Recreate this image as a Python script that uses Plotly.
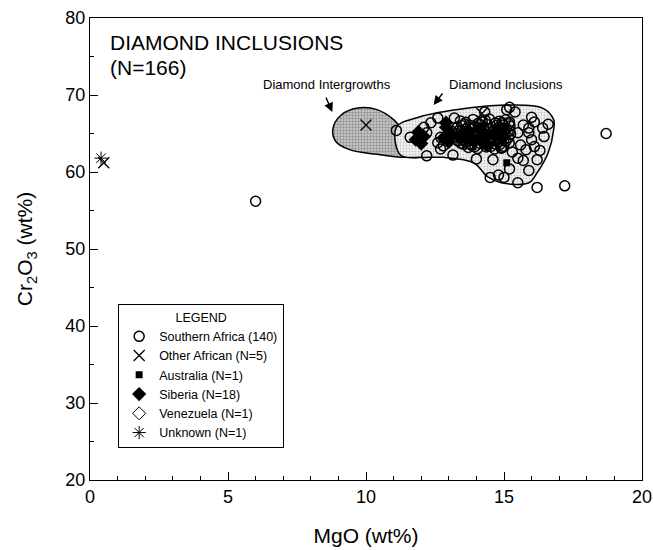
import plotly.graph_objects as go

# ---- Southern Africa chromite inclusions (MgO, Cr2O3 in wt%) ----
sa_mgo = [
    6.0, 18.7, 17.2, 16.2, 15.5, 15.0, 14.8, 14.5, 14.0, 11.1,
    12.2, 12.1, 12.2, 12.6, 13.2, 12.7, 12.6, 12.8, 12.7, 14.3,
    15.2, 15.4, 15.2, 16.0, 15.7, 15.9, 16.4, 15.9, 15.5, 15.6,
    16.0, 16.1, 15.8, 15.5, 15.7, 16.2, 15.1, 15.0, 15.3, 13.1,
    14.9, 16.3, 11.6, 14.6, 15.2, 16.1, 16.45, 12.35, 13.15, 16.6,
    15.9,
    13.42, 13.88, 14.21, 14.47, 14.83, 15.06,
    13.55, 13.79, 14.06, 14.38, 14.69, 14.97, 15.18,
    13.31, 13.63, 13.94, 14.27, 14.52, 14.81, 15.09,
    13.46, 13.72, 14.03, 14.34, 14.63, 14.92, 15.21,
    13.28, 13.58, 13.86, 14.17, 14.44, 14.76, 15.04,
    13.39, 13.67, 13.97, 14.26, 14.58, 14.87, 15.16,
    13.33, 13.61, 13.92, 14.22, 14.51, 14.79, 15.07,
    13.52, 13.83, 14.13, 14.41, 14.72, 14.99,
    13.71, 14.04, 14.36, 14.66, 14.93,
    13.49, 14.12, 14.73, 13.81, 14.41, 15.01,
    13.52, 14.09, 14.69, 13.77, 14.33, 14.95,
    13.48, 14.05, 14.64, 13.76, 14.28, 14.86,
    13.95, 14.54, 13.62, 14.32, 14.93, 15.22, 15.24, 15.19,
    13.36, 13.41, 13.44,
]
sa_cr2o3 = [
    56.2, 65.0, 58.2, 58.0, 58.6, 59.3, 59.6, 59.3, 61.7, 65.4,
    62.1, 65.8, 65.1, 67.0, 67.0, 64.5, 63.8, 63.4, 63.0, 67.8,
    68.4, 67.8, 66.5, 67.1, 66.1, 65.7, 65.7, 65.1, 65.1, 63.5,
    64.2, 63.3, 62.9, 61.8, 61.5, 61.6, 68.1, 64.2, 62.6, 65.3,
    63.1, 62.8, 64.5, 61.6, 60.4, 66.5, 64.6, 66.4, 62.2, 66.2,
    60.2,
    66.61, 66.83, 66.52, 66.88, 66.60, 66.78,
    66.22, 66.05, 66.31, 66.17, 66.35, 66.09, 66.26,
    65.82, 65.61, 65.88, 65.73, 65.56, 65.81, 65.64,
    65.36, 65.18, 65.43, 65.24, 65.39, 65.13, 65.32,
    64.94, 64.79, 65.00, 64.75, 64.91, 64.67, 64.86,
    64.49, 64.31, 64.55, 64.36, 64.53, 64.28, 64.45,
    64.05, 63.88, 64.14, 63.93, 64.09, 63.84, 64.01,
    63.61, 63.46, 63.70, 63.41, 63.59, 63.33,
    63.18, 63.04, 63.25, 62.99, 63.17,
    66.02, 66.18, 66.06, 65.56, 65.62, 65.52,
    65.08, 65.12, 65.03, 64.63, 64.66, 64.58,
    64.19, 64.21, 64.18, 63.68, 63.72, 63.62,
    63.32, 63.36, 66.45, 66.72, 66.42, 65.98, 64.92, 63.78,
    65.38, 64.71, 63.74,
]

# ---- other localities ----
other_af_mgo = [10.0, 0.5, 14.2, 14.5, 13.8]
other_af_cr2o3 = [66.1, 61.2, 67.6, 65.0, 63.6]

australia_mgo = [15.1]
australia_cr2o3 = [61.2]

siberia_mgo = [11.8, 11.9, 12.1, 12.0, 12.9, 13.1, 12.8, 13.0, 12.9,
               13.5, 13.7, 13.9, 14.1, 14.3, 14.6, 14.8, 15.0, 14.4]
siberia_cr2o3 = [64.2, 65.2, 64.6, 63.7, 65.8, 64.9, 64.4, 63.9, 66.4,
                 64.5, 65.2, 64.0, 65.6, 64.3, 64.9, 65.5, 64.6, 63.5]

venezuela_mgo = [14.0]
venezuela_cr2o3 = [64.6]

unknown_mgo = [0.4]
unknown_cr2o3 = [61.8]

# ---- outlined fields ----
intergrowth_mgo = [8.8, 9.1, 9.7, 10.4, 11.0, 11.5, 12.2, 11.4, 10.4, 9.4, 8.9, 8.8]
intergrowth_cr2o3 = [65.6, 67.4, 68.3, 68.1, 66.8, 64.6, 62.1, 61.9, 62.3, 62.9, 64.0, 65.6]

inclusion_mgo = [11.1, 11.9, 13.7, 15.2, 16.4, 16.8, 16.8, 16.6, 16.2, 15.9, 14.9,
                 14.4, 13.9, 12.8, 12.0, 11.25, 11.1]
inclusion_cr2o3 = [65.8, 67.1, 68.3, 68.7, 68.3, 66.8, 65.5, 62.5, 59.9, 58.6, 58.6,
                   59.4, 61.2, 61.9, 61.9, 62.2, 65.8]

FONT = "Liberation Sans, Arial, Helvetica, sans-serif"

fig = go.Figure()

fig.add_trace(go.Scatter(
    x=intergrowth_mgo, y=intergrowth_cr2o3, mode="lines", fill="toself",
    line=dict(color="black", width=1.5, shape="spline", smoothing=1.0),
    fillpattern=dict(shape=".", fgcolor="#555555", bgcolor="#d0d0d0", size=3, solidity=0.5),
    showlegend=False, hoverinfo="skip"))

fig.add_trace(go.Scatter(
    x=inclusion_mgo, y=inclusion_cr2o3, mode="lines", fill="toself",
    line=dict(color="black", width=1.5, shape="spline", smoothing=1.0),
    fillpattern=dict(shape=".", fgcolor="#9a9a9a", bgcolor="#f2f2f2", size=3, solidity=0.3),
    showlegend=False, hoverinfo="skip"))

fig.add_trace(go.Scatter(
    x=sa_mgo, y=sa_cr2o3, mode="markers", name="Southern Africa (140)",
    marker=dict(symbol="circle-open", size=10, color="black", line=dict(width=1.5))))
fig.add_trace(go.Scatter(
    x=other_af_mgo, y=other_af_cr2o3, mode="markers", name="Other African (N=5)",
    marker=dict(symbol="x-thin-open", size=11, color="black", line=dict(width=1.3))))
fig.add_trace(go.Scatter(
    x=australia_mgo, y=australia_cr2o3, mode="markers", name="Australia (N=1)",
    marker=dict(symbol="square", size=7, color="black")))
fig.add_trace(go.Scatter(
    x=siberia_mgo, y=siberia_cr2o3, mode="markers", name="Siberia (N=18)",
    marker=dict(symbol="diamond", size=11, color="black")))
fig.add_trace(go.Scatter(
    x=venezuela_mgo, y=venezuela_cr2o3, mode="markers", name="Venezuela (N=1)",
    marker=dict(symbol="diamond-open", size=10, color="black", line=dict(width=1))))
fig.add_trace(go.Scatter(
    x=unknown_mgo, y=unknown_cr2o3, mode="markers", name="Unknown (N=1)",
    marker=dict(symbol="asterisk-open", size=11, color="black", line=dict(width=1))))

# field labels with arrows
fig.add_annotation(x=8.78, y=67.8, ax=-7, ay=-16, text="", showarrow=True,
                   arrowhead=2, arrowsize=1.3, arrowwidth=1.4, arrowcolor="black")
fig.add_annotation(x=12.45, y=68.7, ax=10, ay=-13, text="", showarrow=True,
                   arrowhead=2, arrowsize=1.3, arrowwidth=1.4, arrowcolor="black")
fig.add_annotation(x=8.57, y=71.3, text="Diamond Intergrowths", showarrow=False,
                   font=dict(family=FONT, size=13, color="black"))
fig.add_annotation(x=15.06, y=71.3, text="Diamond Inclusions", showarrow=False,
                   font=dict(family=FONT, size=13, color="black"))

# panel heading
fig.add_annotation(xref="paper", yref="paper", x=0.033, y=0.948, xanchor="left",
                   yanchor="middle", text="DIAMOND INCLUSIONS", showarrow=False,
                   font=dict(family=FONT, size=21, color="black"))
fig.add_annotation(xref="paper", yref="paper", x=0.033, y=0.892, xanchor="left",
                   yanchor="middle", text="(N=166)", showarrow=False,
                   font=dict(family=FONT, size=21, color="black"))

axis_common = dict(
    showline=True, linecolor="black", linewidth=1.3, mirror=True,
    showgrid=False, zeroline=False, ticks="inside", ticklen=8, tickwidth=1,
    tickcolor="black", tickfont=dict(family=FONT, size=18, color="black"),
    automargin=False,
)

fig.update_layout(
    width=653, height=550,
    margin=dict(l=90, r=11, t=18, b=70),
    paper_bgcolor="white", plot_bgcolor="white",
    font=dict(family=FONT, color="black"),
    xaxis=dict(range=[0, 20], dtick=5, **axis_common,
               minor=dict(dtick=1, ticks="inside", ticklen=4, tickcolor="black", showgrid=False),
               title=dict(text="MgO (wt%)", font=dict(family=FONT, size=21), standoff=22)),
    yaxis=dict(range=[20, 80], dtick=10, **axis_common,
               minor=dict(dtick=5, ticks="inside", ticklen=4, tickcolor="black", showgrid=False),
               title=dict(text="Cr<sub>2</sub>O<sub>3</sub> (wt%)", font=dict(family=FONT, size=21),
                          standoff=26)),
    legend=dict(x=0.051, y=0.38, xanchor="left", yanchor="top",
                bgcolor="white", bordercolor="black", borderwidth=1,
                font=dict(family=FONT, size=12.5, color="black"),
                title=dict(text="LEGEND", side="top center",
                           font=dict(family=FONT, size=12.5, color="black")),
                entrywidth=172),
    showlegend=True,
)

fig.write_html("out.html")
